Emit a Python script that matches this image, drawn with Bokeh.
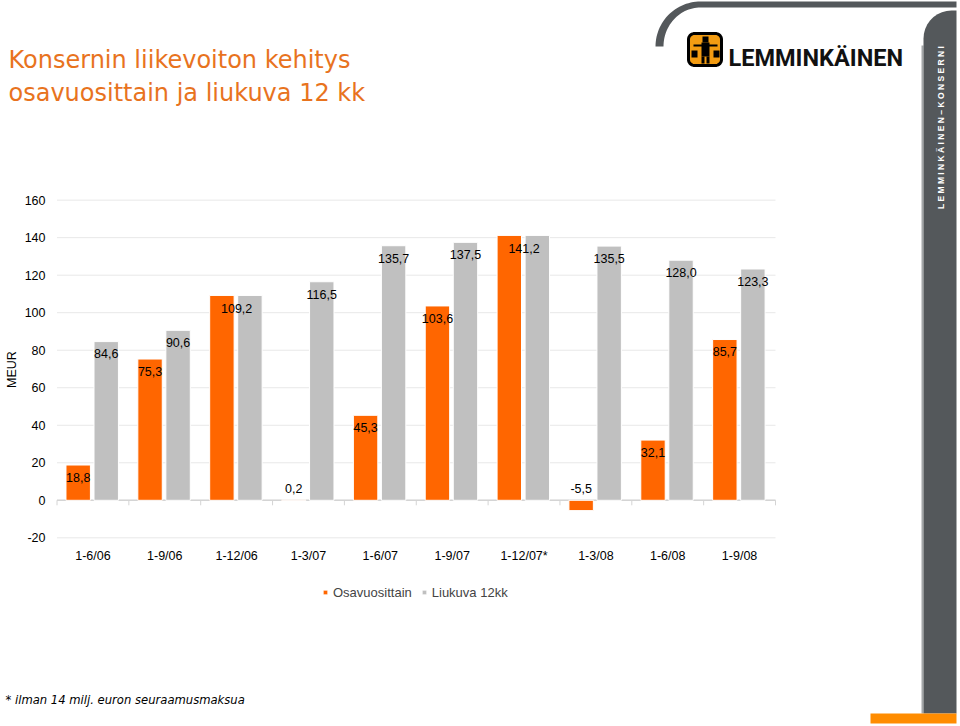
import numpy as np
from bokeh.plotting import figure
from bokeh.models import Range1d, Legend, LegendItem, ColumnDataSource
from bokeh.core.properties import value
from bokeh.embed import file_html
from bokeh.resources import INLINE

# ---------------- data ----------------
periods = ["1-6/06", "1-9/06", "1-12/06", "1-3/07", "1-6/07", "1-9/07",
           "1-12/07*", "1-3/08", "1-6/08", "1-9/08"]
osavuosittain = [18.8, 75.3, 109.2, 0.2, 45.3, 103.6, 141.2, -5.5, 32.1, 85.7]
liukuva_12kk = [84.6, 90.6, 109.2, 116.5, 135.7, 137.5, 141.2, 135.5, 128.0, 123.3]
y_ticks = [-20, 0, 20, 40, 60, 80, 100, 120, 140, 160]
series_names = ["Osavuosittain", "Liukuva 12kk"]
title_lines = ["Konsernin liikevoiton kehitys", "osavuosittain ja liukuva 12 kk"]
footnote = "* ilman 14 milj. euron seuraamusmaksua"
y_axis_title = "MEUR"
brand = "LEMMINKÄINEN"
band_text = "LEMMINKÄINEN–KONSERNI"

# ---------------- styling / layout constants ----------------
ORANGE = "#FF6600"
GREY = "#C0C0C0"
DARK = "#54585B"
TITLE_COL = "#E8731E"
FONT = "Liberation Sans"

W, H = 960, 726
LEFT_PX, RIGHT_PX = 56.5, 775.0      # plot area in page pixels
ZERO_PX, PPU = 499.8, 1.876          # pixel row of value 0, pixels per MEUR
CAT_PX = (RIGHT_PX - LEFT_PX) / len(periods)


def x_of_px(px):
    return (px - LEFT_PX) / CAT_PX


def y_of_px(py):
    return (ZERO_PX - py) / PPU


p = figure(width=W, height=H,
           x_range=Range1d(x_of_px(0), x_of_px(W)),
           y_range=Range1d(y_of_px(H), y_of_px(0)),
           x_axis_location=None, y_axis_location=None,
           output_backend="svg", toolbar_location=None, min_border=0,
           background_fill_color="white", border_fill_color="white", outline_line_color=None)
p.xgrid.visible = False
p.ygrid.visible = False
p.extra_x_ranges = {"px": Range1d(0, W)}
p.extra_y_ranges = {"px": Range1d(H, 0)}
PX = dict(x_range_name="px", y_range_name="px")

n = len(periods)
y_lo, y_hi = min(y_ticks), max(y_ticks)

# gridlines (value axis)
p.segment(x0=[0] * len(y_ticks), x1=[n] * len(y_ticks), y0=y_ticks, y1=y_ticks,
          line_color="#E8E8E8", line_width=1)
# y tick labels
p.text(x=[x_of_px(45)] * len(y_ticks), y=y_ticks, text=[str(t) for t in y_ticks],
       text_align="right", text_baseline="middle", text_font=value(FONT),
       text_font_size=value("12.5px"), text_color="#000000")

# category axis: zero line, boundary ticks, labels
p.segment(x0=[0], x1=[n], y0=[0], y1=[0], line_color="#D4D4D4", line_width=1.5)
bounds = list(range(n + 1))
tick_len = 5 / PPU
p.segment(x0=bounds, y0=[0] * len(bounds), x1=bounds, y1=[-tick_len] * len(bounds),
          line_color="#D4D4D4", line_width=1)
centers = [i + 0.5 for i in range(n)]
p.text(x=centers, y=[y_lo - 18 / PPU] * n, text=periods, text_align="center",
       text_baseline="middle", text_font=value(FONT), text_font_size=value("12.5px"),
       text_color="#000000")

# axis title (rotated, page pixels)
p.text(x=[11], y=[369], text=[y_axis_title],
       angle=np.pi / 2, text_align="center", text_baseline="middle",
       text_font=value(FONT), text_font_size=value("12.5px"), text_color="#000000", **PX)

# bars
OFF_A, OFF_B, BW = -0.205, 0.185, 0.34
src = ColumnDataSource(dict(xa=[c + OFF_A for c in centers], xb=[c + OFF_B for c in centers],
                            osa=osavuosittain, liu=liukuva_12kk))
r1 = p.vbar(x="xa", top="osa", bottom=0, width=BW, source=src,
            fill_color=ORANGE, line_color="white", line_width=1)
r2 = p.vbar(x="xb", top="liu", bottom=0, width=BW, source=src,
            fill_color=GREY, line_color="white", line_width=1)


# data labels (Finnish decimal comma)
def fmt(v):
    return f"{v:.1f}".replace(".", ",")


lab_x, lab_y, lab_t = [], [], []
for i, (a, b) in enumerate(zip(osavuosittain, liukuva_12kk)):
    if a == b:
        lab_x.append(centers[i])
        lab_y.append(a - 7.0)
        lab_t.append(fmt(a))
    else:
        for v, off in ((a, OFF_A), (b, OFF_B)):
            lab_x.append(centers[i] + off)
            lab_y.append(v - 6.6 if abs(v) >= 10 else 6.2)
            lab_t.append(fmt(v))
p.text(x=lab_x, y=lab_y, text=lab_t, text_align="center", text_baseline="middle",
       text_font=value(FONT), text_font_size=value("12.5px"), text_color="#000000")

# legend
LEG_H = 16
legend = Legend(items=[LegendItem(label=series_names[0], renderers=[r1]),
                       LegendItem(label=series_names[1], renderers=[r2])],
                location=(322, H - 584 - LEG_H), orientation="horizontal",
                glyph_width=6, glyph_height=6, label_standoff=5, spacing=9,
                padding=0, margin=0, border_line_color=None, background_fill_alpha=0,
                label_text_font=FONT, label_text_font_size="13px", label_height=LEG_H)
p.add_layout(legend)

# ---------------- slide decorations (page-pixel coordinates) ----------------
for yb, line in zip((59, 92), title_lines):
    p.text(x=[8], y=[yb], text=[line], text_font=value("DejaVu Sans"),
           text_font_size=value("24px"), text_color=TITLE_COL,
           text_baseline="alphabetic", **PX)
p.text(x=[5], y=[699], text=[footnote], text_font=value("DejaVu Sans"),
       text_font_style="italic", text_font_size=value("11.6px"), text_color="#000000",
       text_baseline="alphabetic", **PX)


def rounded_rect(l, r, t, b, rad, corners=(1, 1, 1, 1)):
    """polygon of a rectangle (page px, y down) with rounded corners tl,tr,br,bl"""
    xs, ys = [], []
    specs = [((l + rad, t + rad), np.pi, 1.5 * np.pi, corners[0], (l, t)),
             ((r - rad, t + rad), 1.5 * np.pi, 2 * np.pi, corners[1], (r, t)),
             ((r - rad, b - rad), 0, 0.5 * np.pi, corners[2], (r, b)),
             ((l + rad, b - rad), 0.5 * np.pi, np.pi, corners[3], (l, b))]
    for (cx, cy), a0, a1, use, (px_, py_) in specs:
        if use and rad > 0:
            th = np.linspace(a0, a1, 10)
            xs += list(cx + rad * np.cos(th)); ys += list(cy + rad * np.sin(th))
        else:
            xs.append(px_); ys.append(py_)
    return xs, ys


# top swoosh
th = np.linspace(np.pi, 1.5 * np.pi, 30)
ox = 700 + 45 * np.cos(th); oy = 46 + 45 * np.sin(th)
ix = 700 + 37 * np.cos(th[::-1]); iy = 46 + 39 * np.sin(th[::-1])
p.patch(x=list(ox) + [956, 956] + list(ix), y=list(oy) + [1, 7] + list(iy),
        fill_color=DARK, line_color=None, **PX)
# right band with light edge and orange foot
p.quad(left=[921], right=[923], top=[45], bottom=[713], fill_color="#A3A6A8",
       line_color=None, **PX)
bx, by = rounded_rect(923, 956, 10, 713, 28, corners=(1, 0, 0, 0))
p.patch(x=bx, y=by, fill_color=DARK, line_color=None, **PX)
p.quad(left=[870], right=[956], top=[713], bottom=[723], fill_color="#FF8C00",
       line_color=None, **PX)
p.text(x=[940], y=[127], text=[" ".join(band_text)], angle=np.pi / 2,
       text_align="center", text_baseline="middle", text_font=value(FONT),
       text_font_style="bold", text_font_size=value("8.5px"), text_color="white", **PX)

# logo icon
lx, ly = rounded_rect(688, 721, 33, 65, 6)
p.patch(x=lx, y=ly, fill_color="#F39C12", line_color="black", line_width=3, **PX)
p.quad(left=[702, 701, 701, 706, 693, 691, 713], right=[708, 709, 704, 709, 717, 697, 719],
       top=[36, 42, 56, 56, 44, 50, 50], bottom=[42, 56, 63, 63, 46, 57, 57],
       fill_color="black", line_color=None, **PX)
p.text(x=[728], y=[57], text=[brand], text_font=value("Roboto"),
       text_font_style="bold", text_font_size=value("23.5px"), text_color="#111111",
       text_baseline="alphabetic", **PX)

open("out.html", "w").write(file_html(p, INLINE))
